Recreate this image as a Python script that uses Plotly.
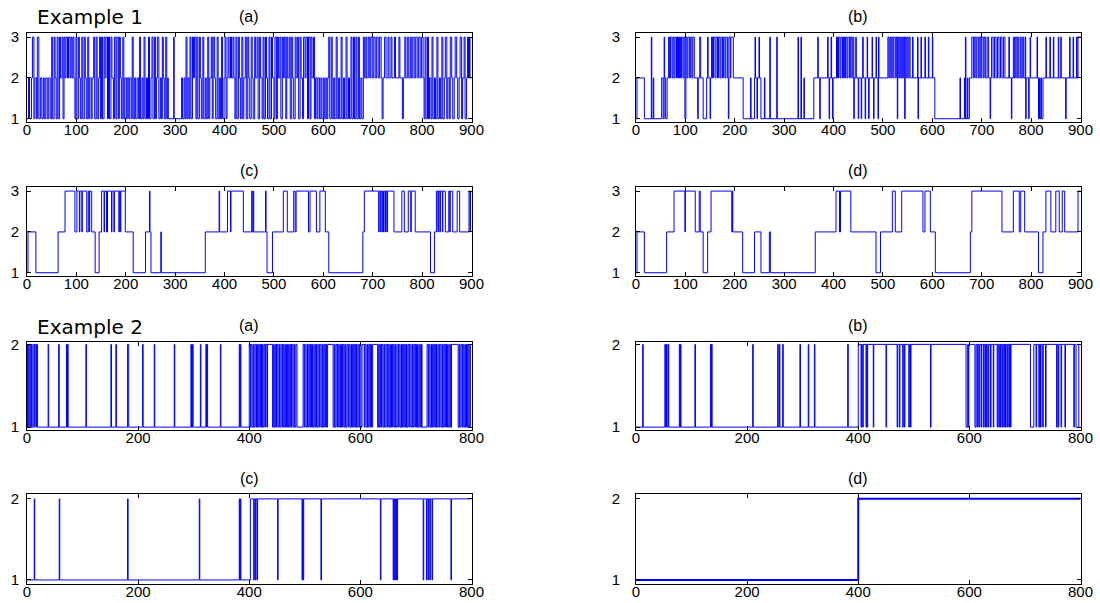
import plotly.graph_objects as go

# ---------------- Example 1 (states 1..3, t = 0..900) ----------------
ex1a_t = [0, 3, 5, 9, 11, 14, 16, 19, 21, 24, 27,
          30, 33, 35, 38, 41, 44, 47, 50, 52, 55, 57, 59,
          61, 63, 66, 68, 71, 73, 75, 77, 79, 82, 84, 87, 89,
          91, 93, 95, 97, 99, 101, 104, 106, 108, 111, 113, 116, 118,
          120, 123, 125, 127, 130, 132, 135, 137, 140, 142, 145, 147, 149,
          151, 153, 156, 158, 160, 163, 165, 167, 170, 172, 175, 177,
          180, 182, 185, 187, 189, 191, 194, 196, 198, 201, 203, 206, 208,
          211, 213, 215, 218, 220, 223, 226, 228, 230, 233, 235, 237, 239,
          242, 244, 246, 248, 251, 253, 255, 258, 260, 262, 264, 267,
          270, 272, 274, 276, 278, 281, 283, 285, 286, 297, 298,
          313, 315, 318, 320, 322, 324, 326, 328,
          330, 332, 335, 337, 339, 342, 344, 346, 349, 351, 353, 356, 358,
          361, 363, 366, 368, 370, 373, 375, 377, 380, 382, 385, 387,
          390, 392, 394, 396, 399, 401, 403, 405, 407, 409, 412, 414, 417, 419,
          421, 423, 425, 428, 430, 432, 435, 437, 439, 442, 444, 447, 449,
          451, 454, 456, 458, 461, 463, 466, 468, 471, 473, 476, 478,
          480, 483, 485, 487, 490, 492, 495, 497, 500, 502, 505, 507, 509,
          512, 514, 517, 519, 521, 524, 526, 528, 531, 533, 536, 538,
          540, 543, 545, 548, 550, 553, 555, 558, 560, 563, 565, 568,
          570, 573, 575, 577, 580, 582, 584, 587, 589, 592, 595, 597,
          600, 602, 605, 607, 609, 611, 613, 616, 618, 621, 623, 626, 628,
          631, 633, 636, 638, 641, 643, 646, 648, 651, 653, 656, 658,
          661, 663, 666, 668, 671, 673, 676, 678, 681, 683, 686, 688,
          691, 694, 696, 699, 702, 705, 708, 711, 714, 717, 719,
          721, 724, 727, 731, 733, 737, 739, 744, 746,
          749, 753, 755, 760, 762, 765, 767, 770, 773, 776, 778,
          781, 784, 787, 790, 793, 796, 799, 802, 804, 806, 808,
          811, 813, 815, 818, 820, 822, 825, 827, 830, 832, 835, 837,
          840, 842, 845, 847, 850, 852, 855, 857, 860, 862, 865, 867,
          870, 872, 875, 877, 880, 882, 885, 887, 890, 892, 894, 896, 897]
ex1a_v = [1, 2, 1, 2, 3, 1, 2, 1, 3, 1, 2,
          1, 2, 1, 2, 1, 2, 1, 3, 1, 3, 2, 1,
          3, 1, 3, 2, 3, 1, 3, 2, 3, 2, 3, 2, 3,
          2, 3, 2, 1, 3, 1, 3, 2, 1, 3, 1, 3, 2,
          1, 3, 1, 2, 1, 2, 3, 1, 3, 1, 2, 3, 1,
          3, 1, 3, 2, 3, 1, 3, 1, 3, 2, 1, 3,
          1, 3, 1, 3, 2, 1, 3, 1, 2, 1, 2, 1, 2,
          1, 3, 1, 2, 1, 2, 1, 3, 1, 2, 1, 3, 1,
          2, 1, 3, 1, 2, 3, 1, 3, 1, 2, 3, 1,
          2, 1, 3, 2, 1, 3, 1, 2, 1, 3, 1,
          2, 1, 2, 1, 3, 1, 2, 1,
          3, 1, 3, 2, 3, 1, 3, 1, 3, 2, 1, 3, 1,
          2, 1, 3, 1, 2, 3, 1, 3, 2, 1, 3, 1,
          2, 1, 3, 1, 2, 3, 1, 2, 3, 2, 3, 2, 3, 2,
          1, 3, 1, 3, 2, 1, 3, 1, 2, 3, 1, 3, 2,
          1, 3, 2, 1, 3, 2, 3, 1, 3, 2, 1, 3,
          1, 3, 2, 1, 3, 1, 3, 2, 1, 3, 1, 3, 2,
          3, 1, 3, 2, 3, 1, 3, 2, 3, 1, 3, 2,
          1, 3, 2, 3, 1, 3, 2, 1, 3, 2, 3, 1,
          3, 1, 3, 2, 3, 1, 2, 1, 2, 1, 2, 1,
          2, 1, 2, 1, 2, 3, 1, 3, 1, 2, 1, 3, 1,
          2, 1, 3, 1, 2, 1, 3, 1, 2, 1, 3, 1,
          3, 1, 3, 1, 3, 1, 2, 1, 3, 2, 3, 2,
          3, 2, 3, 2, 3, 2, 3, 2, 3, 2, 1,
          2, 3, 2, 3, 2, 3, 2, 3, 2,
          2, 3, 2, 1, 2, 3, 2, 3, 2, 3, 2,
          3, 2, 3, 2, 3, 2, 3, 2, 1, 3, 1,
          3, 1, 2, 1, 3, 1, 2, 1, 3, 1, 2, 1,
          3, 1, 2, 3, 1, 2, 1, 3, 2, 1, 2, 3,
          2, 1, 2, 3, 1, 2, 3, 1, 2, 3, 2, 3, 2]

ex1b_t = [0, 2, 17, 31, 32, 35, 36, 52, 55, 57, 58, 60, 63,
          66, 68, 70, 73, 75, 77, 79, 82, 84, 86, 88, 90, 92, 95, 97, 99, 101,
          103, 105, 108, 110, 113, 115, 118, 125, 126, 129, 131, 136, 143, 145,
          146, 150, 151, 153, 155, 157, 160, 162, 165, 167, 170, 172, 175, 177,
          180, 182, 185, 187, 188, 191, 192, 197, 217, 232, 233, 240, 241, 242,
          245, 246, 249, 250, 253, 260, 261, 271, 272, 285, 286,
          328, 329, 334, 335, 340, 341, 360, 368, 369, 372, 373, 388, 389, 391,
          392, 395, 396, 398, 399, 406, 408, 410, 413, 415, 418, 420, 422, 424,
          427, 429, 432, 434, 437, 439, 441, 442, 445, 446, 450, 451, 456, 457,
          459, 460, 464, 465, 468, 469, 471, 472, 478, 479, 481, 482, 486, 487,
          490, 491, 492, 510, 512, 514, 516, 518, 520, 522, 525, 527, 529, 530,
          532, 534, 536, 538, 540, 542, 544, 545, 547, 549, 551, 553, 555, 560,
          561, 570, 571, 572, 577, 578, 585, 586, 592, 593, 600, 601, 605,
          656, 657, 665, 666, 667, 668, 671, 672, 675, 680,
          683, 685, 688, 690, 693, 695, 698, 700, 703, 705, 708, 711, 714, 717,
          718, 720, 723, 726, 729, 732, 735, 738, 741, 744, 747,
          755, 756, 760, 761, 764, 766, 768, 771, 773, 775, 778, 780, 783, 785,
          788, 789, 790, 795, 796, 798, 799, 812, 813, 815, 817, 818, 820, 821,
          824, 830, 831, 838, 839, 845, 846, 855, 856, 860, 861, 870, 871, 878,
          879, 885, 886, 892, 893, 895]
ex1b_v = [1, 2, 1, 3, 1, 2, 1, 2, 1, 3, 2, 1, 2,
          3, 2, 3, 2, 3, 2, 3, 2, 3, 2, 3, 2, 3, 2, 3, 1, 3,
          2, 3, 2, 3, 2, 3, 2, 1, 2, 3, 2, 1, 2, 3,
          2, 1, 2, 3, 2, 3, 2, 3, 2, 3, 2, 3, 2, 3,
          2, 3, 2, 1, 3, 2, 3, 2, 1, 2, 1, 2, 3, 2,
          1, 2, 3, 2, 1, 2, 1, 3, 1, 3, 1,
          3, 1, 3, 1, 2, 1, 2, 3, 2, 1, 2, 3, 2, 1,
          2, 3, 2, 1, 2, 3, 2, 3, 2, 3, 2, 3, 2, 3,
          2, 3, 2, 3, 2, 3, 1, 2, 3, 2, 1, 2, 1, 2,
          3, 2, 1, 2, 3, 2, 1, 2, 3, 2, 1, 2, 3, 2,
          1, 3, 2, 3, 2, 3, 2, 3, 2, 3, 2, 3, 1, 3,
          2, 3, 2, 3, 2, 3, 1, 3, 2, 3, 2, 3, 2, 3,
          2, 3, 1, 2, 3, 2, 3, 2, 3, 2, 3, 2, 1,
          2, 1, 2, 1, 3, 1, 2, 1, 2, 3,
          2, 3, 2, 3, 2, 3, 2, 3, 2, 3, 2, 3, 2, 1,
          2, 3, 2, 3, 2, 3, 2, 3, 2, 3, 2,
          3, 2, 1, 2, 3, 2, 3, 2, 3, 2, 3, 2, 3, 2,
          3, 1, 2, 1, 2, 3, 2, 3, 2, 1, 2, 1, 2, 1,
          2, 3, 2, 3, 2, 3, 2, 3, 2, 3, 2, 1, 2, 3,
          2, 3, 2, 3, 2, 3]

ex1c_t = [0, 2, 18, 63, 77, 97, 101, 106, 107, 111, 112, 121, 124, 126, 127,
          131, 138, 146, 151, 156, 157, 161, 163, 171, 172, 176, 177, 186, 187,
          189, 190, 199, 215, 240, 248, 249, 251, 271, 272, 361, 389, 390, 406,
          412, 413, 438, 455, 456, 458, 459, 483, 484, 486, 497, 519, 527, 540,
          543, 545, 570, 573, 586, 593, 604, 611, 680, 683, 712, 713, 716, 717,
          720, 721, 722, 723, 726, 727, 729, 730, 743, 759, 764, 772, 777, 778,
          786, 817, 825, 829, 832, 833, 836, 837, 841, 842, 847, 854, 856, 857,
          862, 871, 876, 895, 897, 898]
ex1c_v = [1, 2, 1, 2, 3, 2, 3, 2, 3, 2, 3, 2, 3, 2, 3,
          2, 1, 2, 3, 2, 3, 2, 3, 2, 3, 2, 3, 2, 3,
          2, 3, 2, 1, 2, 3, 2, 1, 2, 1, 2, 3, 2, 3,
          2, 3, 2, 3, 2, 3, 2, 3, 2, 1, 2, 3, 2, 3,
          2, 3, 2, 3, 2, 3, 2, 1, 2, 3, 2, 3, 2, 3,
          2, 3, 2, 3, 2, 3, 2, 3, 2, 3, 2, 3, 2, 3,
          2, 1, 2, 3, 2, 3, 2, 3, 2, 3, 2, 3, 2, 3,
          2, 3, 2, 3, 2, 3]

ex1d_t = [0, 2, 17, 62, 77, 99, 100, 120, 128, 130, 136, 145, 152, 194, 195,
          196, 216, 240, 253, 270, 272, 363, 405, 412, 414, 435, 486, 495, 519,
          525, 538, 581, 585, 596, 606, 677, 680, 741, 764, 776, 779, 787, 815,
          824, 830, 840, 850, 857, 863, 868, 895]
ex1d_v = [1, 2, 1, 2, 3, 2, 3, 2, 3, 2, 1, 2, 3, 2, 3,
          2, 1, 2, 1, 2, 1, 2, 3, 2, 3, 2, 1, 2, 3,
          2, 3, 2, 3, 2, 1, 2, 3, 2, 3, 2, 3, 2, 1,
          2, 3, 2, 3, 2, 3, 2, 3]

# ---------------- Example 2 (states 1..2, t = 0..800) ----------------
ex2a_t = [0, 1, 3, 4, 6, 8, 9, 11, 13, 14, 16, 17, 19,
          38, 39, 57, 58, 71, 72, 73, 74, 106, 107, 151, 152, 160, 161, 181, 183,
          208, 209, 229, 230, 265, 266, 295, 296, 298, 299, 312, 313, 322, 323,
          324, 325, 348, 349, 382, 383, 384, 385,
          400, 402, 403, 405, 407, 408, 410, 412, 413, 415, 417, 419, 420, 422,
          424, 425, 427, 429, 430, 432, 433, 442, 444, 445, 447, 449, 450, 452,
          454, 455, 457, 459, 460, 462, 464, 465, 467, 469, 471, 472, 474, 476,
          477, 479, 481, 482, 484, 486, 497, 499, 500, 502, 504, 505, 507, 509,
          510, 512, 514, 515, 517, 519, 521, 522, 524, 526, 527, 529, 531, 532,
          534, 536, 537, 539, 541, 551, 553, 554, 556, 558, 559, 561, 563, 564,
          566, 568, 569, 571, 573, 574, 576, 578, 579, 581, 583, 584, 586, 588,
          589, 591, 593, 594, 596, 598, 599, 601, 603, 607, 608, 610, 612, 613,
          615, 617, 618, 620, 622, 631, 633, 634, 636, 638, 639, 641, 643, 644,
          646, 648, 649, 651, 653, 654, 656, 658, 659, 661, 663, 664, 666, 668,
          669, 671, 673, 674, 676, 678, 679, 681, 683, 684, 686, 688, 689, 691,
          693, 694, 696, 698, 699, 701, 703, 704, 706, 708, 710, 711, 720, 722,
          723, 725, 727, 728, 730, 732, 733, 735, 737, 738, 740, 742, 743, 745,
          747, 748, 750, 752, 753, 755, 757, 758, 760, 762, 764, 776, 778, 779,
          781, 783, 784, 786, 788, 789, 791, 793, 794, 796, 798]
ex2a_v = [1, 2, 1, 2, 1, 2, 1, 2, 1, 2, 1, 2, 1,
          2, 1, 2, 1, 2, 1, 2, 1, 2, 1, 2, 1, 2, 1, 2, 1,
          2, 1, 2, 1, 2, 1, 2, 1, 2, 1, 2, 1, 2, 1,
          2, 1, 2, 1, 2, 1, 2, 1,
          2, 1, 2, 1, 2, 1, 2, 1, 2, 1, 2, 1, 2, 1,
          2, 1, 2, 1, 2, 1, 2, 1, 2, 1, 2, 1, 2, 1,
          2, 1, 2, 1, 2, 1, 2, 1, 2, 1, 2, 1, 2, 1,
          2, 1, 2, 1, 2, 1, 2, 1, 2, 1, 2, 1, 2, 1,
          2, 1, 2, 1, 2, 1, 2, 1, 2, 1, 2, 1, 2, 1,
          2, 1, 2, 1, 2, 1, 2, 1, 2, 1, 2, 1, 2, 1,
          2, 1, 2, 1, 2, 1, 2, 1, 2, 1, 2, 1, 2, 1,
          2, 1, 2, 1, 2, 1, 2, 1, 2, 1, 2, 1, 2, 1,
          2, 1, 2, 1, 2, 1, 2, 1, 2, 1, 2, 1, 2, 1,
          2, 1, 2, 1, 2, 1, 2, 1, 2, 1, 2, 1, 2, 1,
          2, 1, 2, 1, 2, 1, 2, 1, 2, 1, 2, 1, 2, 1,
          2, 1, 2, 1, 2, 1, 2, 1, 2, 1, 2, 1, 2, 1,
          2, 1, 2, 1, 2, 1, 2, 1, 2, 1, 2, 1, 2, 1,
          2, 1, 2, 1, 2, 1, 2, 1, 2, 1, 2, 1, 2, 1,
          2, 1, 2, 1, 2, 1, 2, 1, 2, 1, 2]

ex2b_t = [0, 12, 13, 52, 53, 55, 56, 58, 59, 78, 79, 80, 81, 106, 107, 134, 135,
          136, 137, 210, 211, 255, 256, 258, 259, 264, 265, 295, 296, 310, 311,
          321, 322, 381, 382, 400, 405, 406, 408, 409, 414, 415, 416, 417, 427,
          428, 450, 451, 470, 471, 474, 475, 480, 481, 483, 484, 491, 492, 494,
          495, 530, 531, 594, 597, 598, 599, 610, 612, 614, 615, 617, 618, 621,
          622, 625, 626, 628, 629, 631, 632, 634, 635, 638, 639, 643, 644, 650,
          651, 653, 654, 656, 657, 659, 660, 662, 663, 665, 666, 668, 669, 671,
          672, 674, 675, 710, 716, 720, 721, 725, 726, 728, 729, 732, 733, 737,
          738, 757, 758, 760, 761, 765, 766, 772, 773, 788, 789, 792, 797]
ex2b_v = [1, 2, 1, 2, 1, 2, 1, 2, 1, 2, 1, 2, 1, 2, 1, 2, 1,
          2, 1, 2, 1, 2, 1, 2, 1, 2, 1, 2, 1, 2, 1,
          2, 1, 2, 1, 2, 1, 2, 1, 2, 1, 2, 1, 2, 1,
          2, 1, 2, 1, 2, 1, 2, 1, 2, 1, 2, 1, 2, 1,
          2, 1, 2, 1, 2, 1, 2, 1, 2, 1, 2, 1, 2, 1,
          2, 1, 2, 1, 2, 1, 2, 1, 2, 1, 2, 1, 2, 1,
          2, 1, 2, 1, 2, 1, 2, 1, 2, 1, 2, 1, 2, 1,
          2, 1, 2, 1, 2, 1, 2, 1, 2, 1, 2, 1, 2, 1,
          2, 1, 2, 1, 2, 1, 2, 1, 2, 1, 2, 1, 2]

ex2c_t = [0, 13, 14, 58, 59, 181, 182, 310, 311, 382, 383, 384, 385, 402, 408,
          409, 411, 412, 414, 415, 451, 452, 495, 496, 497, 498, 529, 530, 636,
          637, 659, 660, 661, 662, 663, 665, 666, 667, 713, 714, 719, 720, 722,
          723, 725, 726, 729, 730, 763, 764]
ex2c_v = [1, 2, 1, 2, 1, 2, 1, 2, 1, 2, 1, 2, 1, 2, 1,
          2, 1, 2, 1, 2, 1, 2, 1, 2, 1, 2, 1, 2, 1,
          2, 1, 2, 1, 2, 1, 2, 1, 2, 1, 2, 1, 2, 1,
          2, 1, 2, 1, 2, 1, 2]

ex2d_t = [0, 400]
ex2d_v = [1, 2]

ex1_xticks = [0, 100, 200, 300, 400, 500, 600, 700, 800, 900]
ex1_yticks = [1, 2, 3]
ex2_xticks = [0, 200, 400, 600, 800]
ex2_yticks = [1, 2]

panel_titles = ["(a)", "(b)", "(c)", "(d)", "(a)", "(b)", "(c)", "(d)"]
example_labels = ["Example 1", "Example 2"]

# ---------------- layout geometry ----------------
W, H = 1100, 603
col_px = [(27, 471.5), (636, 1080.5)]
row_px = [(33, 122), (187, 276), (341.5, 430), (494, 584)]
row_yrange = [[0.92, 3.1], [0.92, 3.1], [0.965, 2.035], [0.95, 2.06]]

panels = [
    (ex1a_t, ex1a_v, 900, 0, 0, 1),
    (ex1b_t, ex1b_v, 900, 0, 1, 1),
    (ex1c_t, ex1c_v, 900, 1, 0, 1),
    (ex1d_t, ex1d_v, 900, 1, 1, 1),
    (ex2a_t, ex2a_v, 800, 2, 0, 1),
    (ex2b_t, ex2b_v, 800, 2, 1, 1),
    (ex2c_t, ex2c_v, 800, 3, 0, 1),
    (ex2d_t, ex2d_v, 800, 3, 1, 2),
]

fig = go.Figure()
font_family = "Liberation Sans, Arial, sans-serif"
layout = dict(
    width=W, height=H, autosize=False,
    margin=dict(l=0, r=0, t=0, b=0, pad=0),
    paper_bgcolor="white", plot_bgcolor="white",
    showlegend=False,
    font=dict(family=font_family, size=15, color="black"),
)
annotations = []

for i, (t, v, tend, r, c, lw) in enumerate(panels):
    idx = i + 1
    xs = list(t) + [tend]
    ys = list(v) + [v[-1]]
    fig.add_trace(go.Scatter(
        x=xs, y=ys, mode="lines", line=dict(color="#0000ff", width=lw, shape="hv"),
        xaxis=f"x{idx}", yaxis=f"y{idx}", hoverinfo="skip"))
    x0, x1 = col_px[c]
    y0, y1 = row_px[r]
    xdom = [x0 / W, x1 / W]
    ydom = [1 - y1 / H, 1 - y0 / H]
    is_ex1 = r < 2
    xt = ex1_xticks if is_ex1 else ex2_xticks
    yt = ex1_yticks if is_ex1 else ex2_yticks
    axis_common = dict(showline=True, linecolor="black", linewidth=1, mirror="allticks",
                       ticks="inside", ticklen=4, tickcolor="black", showgrid=False,
                       zeroline=False, automargin=False,
                       tickfont=dict(family=font_family, size=15, color="black"))
    layout[f"xaxis{idx}"] = dict(domain=xdom, range=[0, tend], tickvals=xt,
                                 anchor=f"y{idx}", ticklabelstandoff=-6, **axis_common)
    layout[f"yaxis{idx}"] = dict(domain=ydom, range=row_yrange[r], tickvals=yt,
                                 anchor=f"x{idx}", ticklabelstandoff=(4 if c == 0 else 12),
                                 **axis_common)
    annotations.append(dict(text=panel_titles[i], x=(x0 + x1) / 2 / W, y=1 - (y0 - 16) / H,
                            xref="paper", yref="paper", showarrow=False,
                            xanchor="center", yanchor="middle",
                            font=dict(family=font_family, size=16, color="black")))

annotations.append(dict(text=example_labels[0], x=35 / W, y=1 - 17 / H, xref="paper", yref="paper",
                        showarrow=False, xanchor="left", yanchor="middle",
                        font=dict(family="DejaVu Sans, sans-serif", size=20, color="black")))
annotations.append(dict(text=example_labels[1], x=35 / W, y=1 - 327 / H, xref="paper", yref="paper",
                        showarrow=False, xanchor="left", yanchor="middle",
                        font=dict(family="DejaVu Sans, sans-serif", size=20, color="black")))
layout["annotations"] = annotations
fig.update_layout(**layout)
fig.write_html(
    "out.html",
    config={"displayModeBar": False, "staticPlot": True},
    post_script="document.body.style.margin='0';document.body.style.overflow='hidden';",
)
